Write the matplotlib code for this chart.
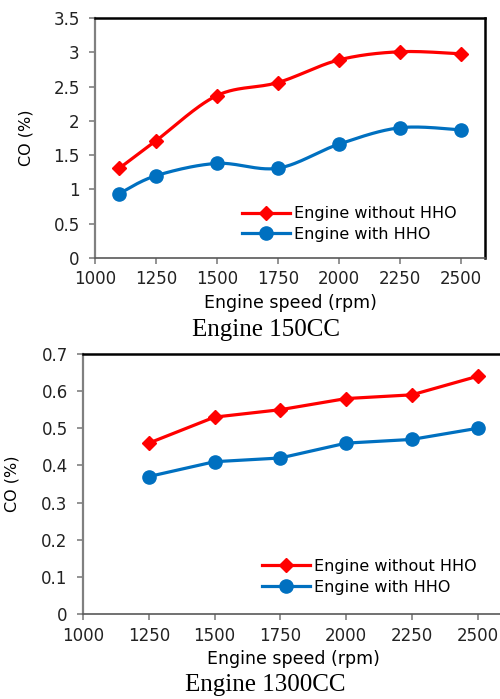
import numpy as np
import matplotlib.pyplot as plt

plt.rcParams['font.family'] = 'DejaVu Sans'

# Engine 150CC
speed_150 = [1100, 1250, 1500, 1750, 2000, 2250, 2500]
co_without_150 = [1.31, 1.71, 2.37, 2.56, 2.89, 3.01, 2.98]
co_with_150 = [0.94, 1.20, 1.38, 1.31, 1.66, 1.90, 1.87]

# Engine 1300CC
speed_1300 = [1250, 1500, 1750, 2000, 2250, 2500]
co_without_1300 = [0.46, 0.53, 0.55, 0.58, 0.59, 0.64]
co_with_1300 = [0.37, 0.41, 0.42, 0.46, 0.47, 0.50]

x_ticks = [1000, 1250, 1500, 1750, 2000, 2250, 2500]
labels = ["Engine without HHO", "Engine with HHO"]

red = '#FF0000'
blue = '#0070C0'


def smooth(xs, ys, n=30):
    # Excel-style smoothed line (Bezier with neighbour-based control points)
    p = np.column_stack([xs, ys]).astype(float)
    out = []
    for i in range(len(p) - 1):
        p0 = p[max(i - 1, 0)]
        p1 = p[i]
        p2 = p[i + 1]
        p3 = p[min(i + 2, len(p) - 1)]
        c1 = p1 + (p2 - p0) / 6
        c2 = p2 - (p3 - p1) / 6
        t = np.linspace(0, 1, n)[:, None]
        seg = (1 - t)**3 * p1 + 3 * (1 - t)**2 * t * c1 + 3 * (1 - t) * t**2 * c2 + t**3 * p2
        out.append(seg if i == 0 else seg[1:])
    out = np.vstack(out)
    return out[:, 0], out[:, 1]


def style_axes(ax):
    for s in ['top', 'right']:
        ax.spines[s].set_color('black')
        ax.spines[s].set_linewidth(1.8)
    ax.spines['left'].set_color('#808080')
    ax.spines['left'].set_linewidth(1.6)
    ax.spines['bottom'].set_color('#595959')
    ax.spines['bottom'].set_linewidth(1.2)
    ax.tick_params(axis='both', direction='out', length=4, width=1.2,
                   color='#808080', labelsize=12, labelcolor='#222222')
    ax.tick_params(axis='y', pad=7)
    ax.tick_params(axis='x', pad=5)
    ax.set_xticks(x_ticks)
    ax.set_xlim(1000, 2600)


fig = plt.figure(figsize=(5, 6.99), dpi=100)

# top chart
ax1 = fig.add_axes([0.19, 0.631, 0.78, 0.343])
xs, ys = smooth(speed_150, co_without_150)
ax1.plot(xs, ys, color=red, lw=2.3)
xs, ys = smooth(speed_150, co_with_150)
ax1.plot(xs, ys, color=blue, lw=2.3)
ax1.plot(speed_150, co_without_150, 'D', color=red, ms=7)
ax1.plot(speed_150, co_with_150, 'o', color=blue, ms=9.5)
ax1.plot([], [], color=red, lw=2.3, marker='D', ms=7, label=labels[0])
ax1.plot([], [], color=blue, lw=2.3, marker='o', ms=9.5, label=labels[1])
style_axes(ax1)
ax1.set_ylim(0, 3.5)
ax1.set_yticks([0, 0.5, 1, 1.5, 2, 2.5, 3, 3.5])
ax1.set_yticklabels(['0', '0.5', '1', '1.5', '2', '2.5', '3', '3.5'])
ax1.set_xlabel("Engine speed (rpm)", fontsize=12.5)
ax1.xaxis.set_label_coords(0.5, -0.15)
ax1.set_ylabel("CO (%)", fontsize=11.5)
ax1.yaxis.set_label_coords(-0.158, 0.5)
h, l = ax1.get_legend_handles_labels()
ax1.legend(h, l, loc='lower left', bbox_to_anchor=(0.36, 0.04), frameon=False,
           fontsize=11.5, handlelength=3.0, handletextpad=0.25, labelspacing=0.35,
           borderaxespad=0)
fig.text(0.531, 0.528, "Engine 150CC", family='Liberation Serif', fontsize=18,
         ha='center', va='center')

# bottom chart
ax2 = fig.add_axes([0.166, 0.1216, 0.842, 0.372])
ax2.plot(speed_1300, co_without_1300, color=red, lw=2.3, marker='D', ms=7, label=labels[0])
ax2.plot(speed_1300, co_with_1300, color=blue, lw=2.3, marker='o', ms=9.5, label=labels[1])
style_axes(ax2)
ax2.set_ylim(0, 0.7)
ax2.set_yticks([0, 0.1, 0.2, 0.3, 0.4, 0.5, 0.6, 0.7])
ax2.set_yticklabels(['0', '0.1', '0.2', '0.3', '0.4', '0.5', '0.6', '0.7'])
ax2.set_xlabel("Engine speed (rpm)", fontsize=12.5)
ax2.xaxis.set_label_coords(0.5, -0.14)
ax2.set_ylabel("CO (%)", fontsize=11.5)
ax2.yaxis.set_label_coords(-0.15, 0.5)
ax2.legend(loc='lower left', bbox_to_anchor=(0.41, 0.05), frameon=False,
           fontsize=11.5, handlelength=3.0, handletextpad=0.25, labelspacing=0.35,
           borderaxespad=0)
fig.text(0.531, 0.020, "Engine 1300CC", family='Liberation Serif', fontsize=18,
         ha='center', va='center')

fig.savefig('out.png', dpi=100)
